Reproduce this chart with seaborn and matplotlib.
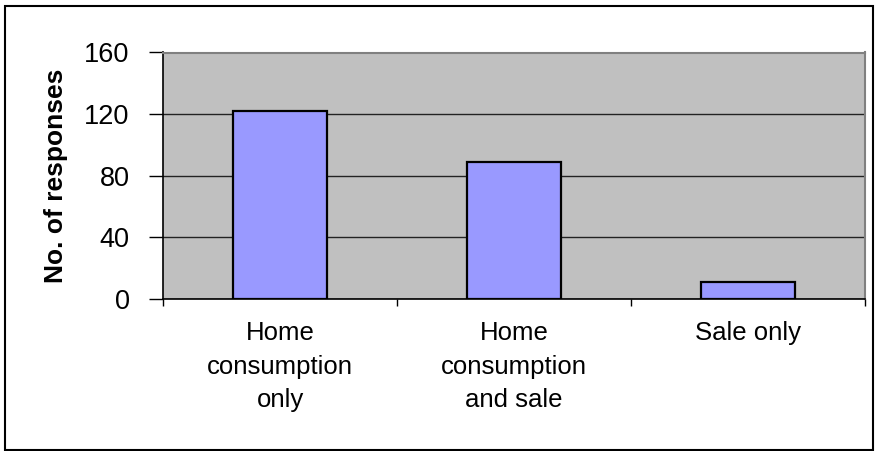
import matplotlib
matplotlib.use("Agg")
import matplotlib.pyplot as plt
import seaborn as sns
import pandas as pd
from matplotlib.patches import Rectangle

categories = ["Home\nconsumption\nonly", "Home\nconsumption\nand sale", "Sale only"]
responses = [122, 89, 11]
y_ticks = [0, 40, 80, 120, 160]

sns.set_style("white")
plt.rcParams["font.family"] = ["Liberation Sans", "DejaVu Sans"]
plt.rcParams["text.color"] = "black"
plt.rcParams["axes.labelcolor"] = "black"
plt.rcParams["xtick.color"] = "black"
plt.rcParams["ytick.color"] = "black"

df = pd.DataFrame({"use": categories, "responses": responses})

fig = plt.figure(figsize=(8.77, 4.51), dpi=100)
ax = fig.add_axes([163 / 877, 1 - 299 / 451, (865 - 163) / 877, (299 - 52.5) / 451])

sns.barplot(data=df, x="use", y="responses", color="#9999FF", width=0.4,
            edgecolor="black", linewidth=1.6, saturation=1, ax=ax, zorder=3)

ax.set_facecolor("#C0C0C0")
ax.set_xlim(-0.5, 2.5)
ax.set_ylim(0, 160)
ax.set_yticks(y_ticks)
ax.set_yticklabels([str(v) for v in y_ticks], fontsize=19.5)
ax.yaxis.grid(True, color="#222222", linewidth=1.0, zorder=1)
ax.set_axisbelow(True)

ax.set_xticks([0, 1, 2])
ax.set_xticklabels(categories, fontsize=18.5, linespacing=1.5)
ax.set_xticks([-0.5, 0.5, 1.5, 2.5], minor=True)
ax.tick_params(axis="x", which="major", length=0, pad=16)
ax.tick_params(axis="x", which="minor", length=5, width=1, color="black", direction="out", bottom=True)
ax.tick_params(axis="y", length=10, width=1, color="black", direction="out", left=True, pad=14)

ax.set_xlabel("")
ax.set_ylabel("No. of responses", fontsize=19, fontweight="bold", labelpad=12)

for side in ["left", "bottom"]:
    ax.spines[side].set_color("black")
    ax.spines[side].set_linewidth(1.2)
for side in ["top", "right"]:
    ax.spines[side].set_visible(True)
    ax.spines[side].set_color("#808080")
    ax.spines[side].set_linewidth(1.5)

fig.patches.append(Rectangle((5 / 877, 1.5 / 451), 868 / 877, 444 / 451,
                             transform=fig.transFigure, fill=False,
                             edgecolor="black", linewidth=1.5))

fig.savefig("out.png", dpi=100)
